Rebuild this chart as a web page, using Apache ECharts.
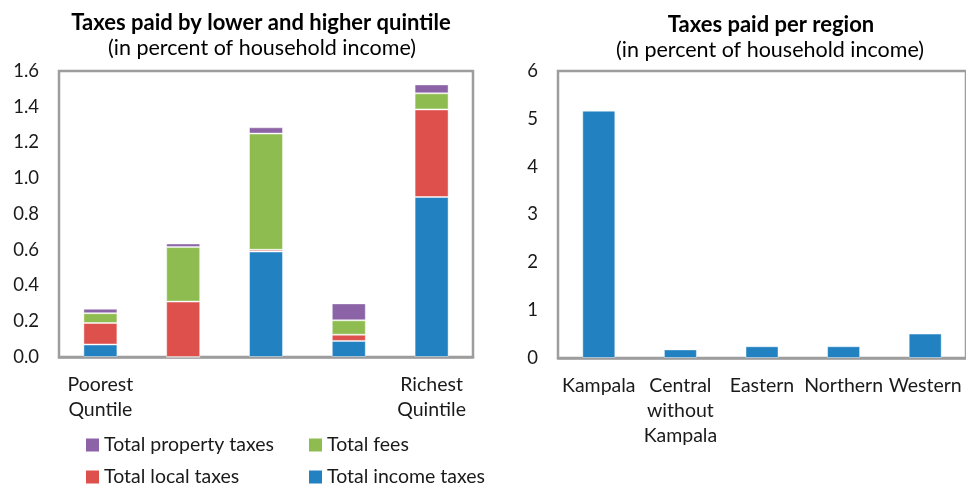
<!DOCTYPE html>
<html>
<head>
<meta charset="utf-8">
<script src="https://cdn.jsdelivr.net/npm/echarts@6/dist/echarts.min.js"></script>
<style>
  html, body { margin: 0; padding: 0; background: #fff; }
  #chart { width: 966px; height: 484px; }
</style>
</head>
<body>
<div id="chart"></div>
<script>
// Quintile panel: categories and stacked components (percent of household income)
var quintileLabels = ['Poorest\nQuntile', '', '', '', 'Richest\nQuintile'];
var incomeTaxes   = [0.07, 0.00, 0.59, 0.09, 0.895];
var localTaxes    = [0.12, 0.31, 0.01, 0.035, 0.49];
var fees          = [0.055, 0.305, 0.65, 0.08, 0.09];
var propertyTaxes = [0.025, 0.02, 0.035, 0.095, 0.05];

// Region panel
var regions = ['Kampala', 'Central\nwithout\nKampala', 'Eastern', 'Northern', 'Western'];
var regionTaxes = [5.17, 0.18, 0.245, 0.245, 0.51];

var FONT = 'Lato';
var AXIS_GREY = '#9d9d9d';
var TEXT = '#1a1a1a';
var COLORS = {
  income: '#2181c1',
  local: '#dd504c',
  fees: '#8fbc50',
  property: '#8b63a6'
};
var SEGMENT_EDGE = 'rgba(255,255,255,0.45)';

var axisCommon = {
  axisLine: { lineStyle: { color: AXIS_GREY, width: 2.5 } },
  axisTick: { inside: true, length: 5, lineStyle: { color: AXIS_GREY, width: 2 } },
  splitLine: { show: false },
  axisLabel: { color: TEXT, fontFamily: FONT, fontSize: 18.5 }
};

function legendItem(name, left, top) {
  return {
    data: [name],
    left: left, top: top,
    padding: 0,
    itemWidth: 13, itemHeight: 13,
    icon: 'rect',
    selectedMode: false,
    itemStyle: { borderWidth: 0 },
    textStyle: { color: TEXT, fontFamily: FONT, fontSize: 19.5, lineHeight: 13, padding: [0, 0, 0, 0] }
  };
}

function titleItem(text, x, top, bold) {
  return {
    text: text,
    left: x, top: top,
    textAlign: 'center',
    padding: 0,
    textStyle: {
      color: '#000', fontFamily: FONT, fontSize: bold ? 22 : 21.5,
      fontWeight: bold ? 'bold' : 'normal', lineHeight: 24
    }
  };
}

function stackSeries(name, color, data) {
  return {
    name: name, type: 'bar', stack: 'q', xAxisIndex: 0, yAxisIndex: 0,
    barWidth: 34,
    itemStyle: { color: color, borderColor: SEGMENT_EDGE, borderWidth: 1 },
    data: data
  };
}

var chart = echarts.init(document.getElementById('chart'), null, { renderer: 'canvas' });

chart.setOption({
  animation: false,
  backgroundColor: '#fff',
  title: [
    titleItem('Taxes paid by lower and higher quintile', 261, 11, true),
    titleItem('(in percent of household income)', 262, 36, false),
    titleItem('Taxes paid per region', 771, 13, true),
    titleItem('(in percent of household income)', 770, 38, false)
  ],
  legend: [
    legendItem('Total property taxes', 86, 435),
    legendItem('Total fees', 309, 435),
    legendItem('Total local taxes', 86, 467),
    legendItem('Total income taxes', 309, 467)
  ],
  grid: [
    { left: 59, top: 71, width: 414, height: 286, show: true, borderColor: AXIS_GREY, borderWidth: 2.5, backgroundColor: 'transparent' },
    { left: 558, top: 71, width: 410, height: 287, show: true, borderColor: AXIS_GREY, borderWidth: 2.5, backgroundColor: 'transparent' }
  ],
  xAxis: [
    Object.assign({}, axisCommon, {
      type: 'category', gridIndex: 0, data: quintileLabels,
      axisLabel: Object.assign({}, axisCommon.axisLabel, { fontSize: 19.5, interval: 0, margin: 15, lineHeight: 25 })
    }),
    Object.assign({}, axisCommon, {
      type: 'category', gridIndex: 1, data: regions,
      axisLabel: Object.assign({}, axisCommon.axisLabel, { fontSize: 19.5, interval: 0, margin: 15, lineHeight: 25 })
    })
  ],
  yAxis: [
    Object.assign({}, axisCommon, {
      type: 'value', gridIndex: 0, min: 0, max: 1.6, interval: 0.2,
      axisLabel: Object.assign({}, axisCommon.axisLabel, {
        margin: 20,
        formatter: function (v) { return v.toFixed(1); }
      })
    }),
    Object.assign({}, axisCommon, {
      type: 'value', gridIndex: 1, min: 0, max: 6, interval: 1,
      axisLabel: Object.assign({}, axisCommon.axisLabel, { margin: 20 })
    })
  ],
  series: [
    stackSeries('Total income taxes', COLORS.income, incomeTaxes),
    stackSeries('Total local taxes', COLORS.local, localTaxes),
    stackSeries('Total fees', COLORS.fees, fees),
    stackSeries('Total property taxes', COLORS.property, propertyTaxes),
    { name: 'Region', type: 'bar', xAxisIndex: 1, yAxisIndex: 1,
      barWidth: 33,
      itemStyle: { color: COLORS.income, borderColor: SEGMENT_EDGE, borderWidth: 1 },
      data: regionTaxes }
  ]
});
</script>
</body>
</html>
